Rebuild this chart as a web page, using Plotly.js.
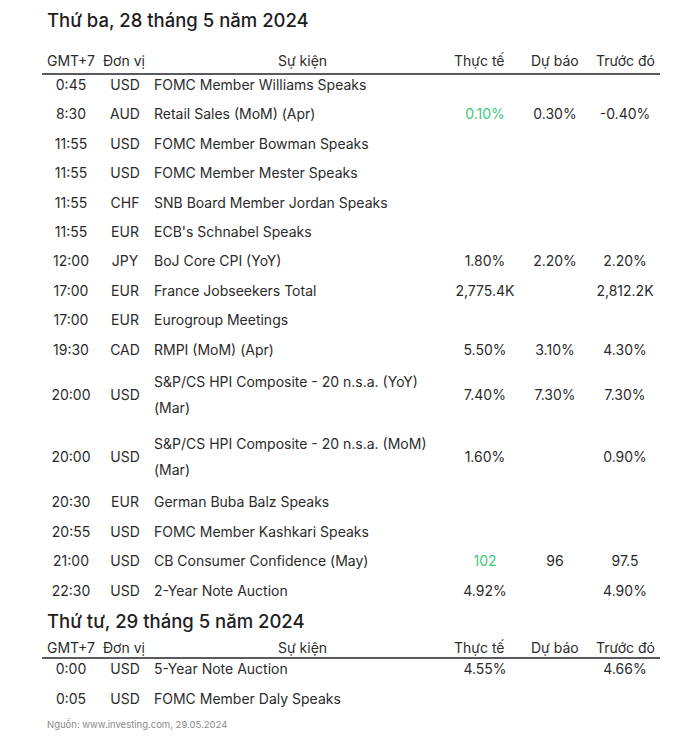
<!DOCTYPE html>
<html>
<head>
<meta charset="utf-8">
<script src="https://cdn.plot.ly/plotly-3.0.1.min.js"></script>
<style>
  body { margin: 0; background: #ffffff; }
  #calendar { width: 700px; height: 737px; }
</style>
</head>
<body>
<div id="calendar"></div>
<script>
// Lịch kinh tế 28-29/05/2024 (nguồn investing.com)
const dayTitles = ['Thứ ba, 28 tháng 5 năm 2024', 'Thứ tư, 29 tháng 5 năm 2024'];
const headers = ['GMT+7', 'Đơn vị', 'Sự kiện', 'Thực tế', 'Dự báo', 'Trước đó'];

const dayIndex = [0, 0, 0, 0, 0, 0, 0, 0, 0, 0, 0, 0, 0, 0, 0, 0, 1, 1];
const times = ['0:45', '8:30', '11:55', '11:55', '11:55', '11:55', '12:00', '17:00', '17:00',
  '19:30', '20:00', '20:00', '20:30', '20:55', '21:00', '22:30', '0:00', '0:05'];
const units = ['USD', 'AUD', 'USD', 'USD', 'CHF', 'EUR', 'JPY', 'EUR', 'EUR',
  'CAD', 'USD', 'USD', 'EUR', 'USD', 'USD', 'USD', 'USD', 'USD'];
const events = [
  'FOMC Member Williams Speaks',
  'Retail Sales (MoM) (Apr)',
  'FOMC Member Bowman Speaks',
  'FOMC Member Mester Speaks',
  'SNB Board Member Jordan Speaks',
  "ECB's Schnabel Speaks",
  'BoJ Core CPI (YoY)',
  'France Jobseekers Total',
  'Eurogroup Meetings',
  'RMPI (MoM) (Apr)',
  'S&P/CS HPI Composite - 20 n.s.a. (YoY)\n(Mar)',
  'S&P/CS HPI Composite - 20 n.s.a. (MoM)\n(Mar)',
  'German Buba Balz Speaks',
  'FOMC Member Kashkari Speaks',
  'CB Consumer Confidence (May)',
  '2-Year Note Auction',
  '5-Year Note Auction',
  'FOMC Member Daly Speaks'
];
const actual = ['', '0.10%', '', '', '', '', '1.80%', '2,775.4K', '', '5.50%', '7.40%', '1.60%',
  '', '', '102', '4.92%', '4.55%', ''];
const forecast = ['', '0.30%', '', '', '', '', '2.20%', '', '', '3.10%', '7.30%', '',
  '', '', '96', '', '', ''];
const previous = ['', '-0.40%', '', '', '', '', '2.20%', '2,812.2K', '', '4.30%', '7.30%', '0.90%',
  '', '', '97.5', '4.90%', '4.66%', ''];
// giá trị thực tế được tô xanh
const actualUp = [false, true, false, false, false, false, false, false, false, false, false, false,
  false, false, true, false, false, false];

const source = 'Nguồn: www.investing.com, 29.05.2024';

// Layout (pixel units: x 0..700, y 0..737 from top)
const FONT = 'Inter, "Open Sans", sans-serif';
const TEXT = '#2b2b2b';
const GREEN = '#3ec97a';
const SIZE = 14;
const colX = { time: 71, unit: 125, event: 154, actual: 485, forecast: 555, previous: 625 };
const headerX = [71, 124, 302, 479, 555, 625];
const sections = [
  { title: 20, header: 60, rule: 74, firstRow: 86.5, pitch: 29.4 },
  { title: 621, header: 647, rule: 658, firstRow: 670.5, pitch: 30 }
];
const LINE_GAP = 26;

// row centres
const rowY = [];
const cursor = sections.map(s => s.firstRow - s.pitch / 2);
events.forEach((ev, i) => {
  const s = sections[dayIndex[i]];
  const nLines = ev.split('\n').length;
  const h = s.pitch * (nLines === 1 ? 1 : 2.1);
  rowY.push(cursor[dayIndex[i]] + h / 2);
  cursor[dayIndex[i]] += h;
});

// event text split into lines
const evX = [], evY = [], evText = [];
events.forEach((ev, i) => {
  const lines = ev.split('\n');
  lines.forEach((ln, k) => {
    evX.push(colX.event);
    evY.push(rowY[i] + (k - (lines.length - 1) / 2) * LINE_GAP);
    evText.push(ln);
  });
});

function textTrace(x, y, text, pos, color) {
  return {
    x: x, y: y, text: text,
    type: 'scatter', mode: 'text',
    textposition: pos,
    textfont: { family: FONT, size: SIZE, color: color || TEXT },
    hoverinfo: 'skip', showlegend: false, cliponaxis: false
  };
}

const colOf = (v) => rowY.map(() => v);

const traces = [
  textTrace(colOf(colX.time), rowY, times, 'middle center'),
  textTrace(colOf(colX.unit), rowY, units, 'middle center'),
  textTrace(evX, evY, evText, 'middle right'),
  textTrace(colOf(colX.actual), rowY, actual, 'middle center', actualUp.map(u => u ? GREEN : TEXT)),
  textTrace(colOf(colX.forecast), rowY, forecast, 'middle center'),
  textTrace(colOf(colX.previous), rowY, previous, 'middle center')
];

const annotations = [];
const shapes = [];
sections.forEach((s, d) => {
  annotations.push({
    x: 45, y: s.title, xref: 'x', yref: 'y', text: dayTitles[d], showarrow: false,
    xanchor: 'left', yanchor: 'middle', font: { family: FONT, size: 18.5, color: '#1e1e1e', weight: 500 }
  });
  headers.forEach((h, k) => {
    annotations.push({
      x: headerX[k], y: s.header, xref: 'x', yref: 'y', text: h, showarrow: false,
      xanchor: 'center', yanchor: 'middle', font: { family: FONT, size: SIZE, color: TEXT }
    });
  });
  shapes.push({
    type: 'line', xref: 'x', yref: 'y', x0: 42, x1: 660, y0: s.rule, y1: s.rule,
    line: { color: '#5a5a66', width: 2 }
  });
});
annotations.push({
  x: 45, y: 724, xref: 'x', yref: 'y', text: source, showarrow: false,
  xanchor: 'left', yanchor: 'middle', font: { family: FONT, size: 9.5, color: '#8a8a8a' }
});

const layout = {
  width: 700, height: 737,
  margin: { t: 0, l: 0, r: 0, b: 0 },
  paper_bgcolor: '#ffffff', plot_bgcolor: '#ffffff',
  xaxis: { range: [0, 700], visible: false, fixedrange: true },
  yaxis: { range: [737, 0], visible: false, fixedrange: true },
  annotations: annotations,
  shapes: shapes,
  showlegend: false
};

Plotly.newPlot('calendar', traces, layout, { displayModeBar: false, staticPlot: true });
</script>
</body>
</html>
